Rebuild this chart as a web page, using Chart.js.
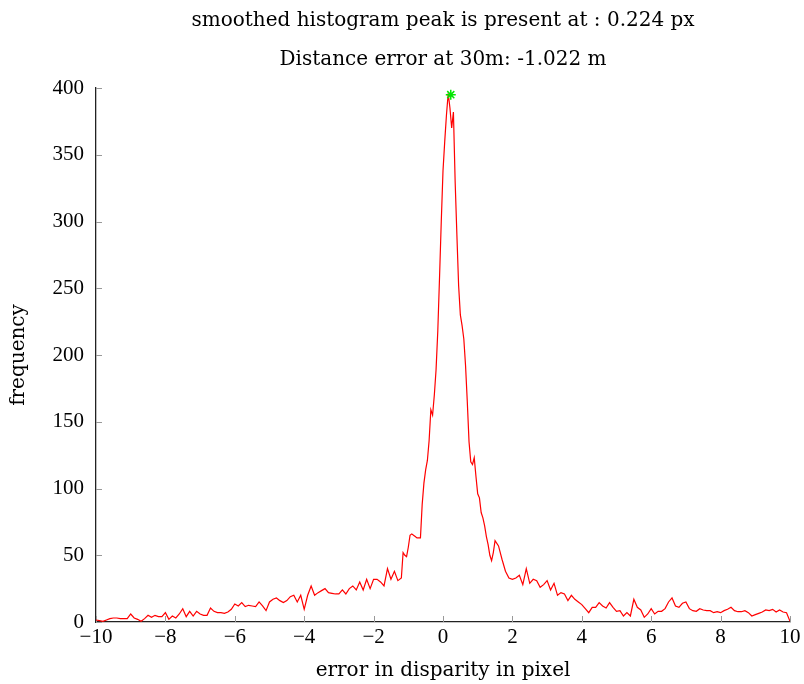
<!DOCTYPE html>
<html>
<head>
<meta charset="utf-8">
<script src="https://cdn.jsdelivr.net/npm/chart.js@4.4.1/dist/chart.umd.min.js"></script>
<style>
    html, body { margin: 0; padding: 0; background: #fff; }
    #wrap { width: 804px; height: 684px; position: relative; }
</style>
</head>
<body>
<div id="wrap"><canvas id="histChart"></canvas></div>
<script>
    "use strict";

    // histogram bins: left tail (step 0.1), core around the peak (step 0.05), right tail (step 0.1)
    const leftStart = -10, leftStep = 0.1;
    const leftFreq = [
        1.5, 1, 0.5, 1.5, 2.5, 3, 3, 2.5, 2.5, 2.5,
        6, 3, 2, 0.5, 2.5, 5, 3.5, 5, 4, 4,
        7, 2, 4.5, 3, 6, 10, 4, 8, 4.5, 8,
        6, 5, 5, 10.5, 8, 7, 7, 6.5, 7.5, 9.5,
        13.5, 12, 14.5, 11.5, 12.5, 12, 11.5, 15, 12, 8.5,
        15, 17, 18, 16, 14.5, 16, 19, 20, 15, 20,
        9.5, 20, 27, 20, 22, 23.5, 25, 22, 21.5, 21,
        21, 24, 21, 25, 27, 24, 30, 24, 32, 25,
        32, 32, 30, 27, 40, 32, 38, 31, 33
    ];

    const coreStart = -1.15, coreStep = 0.05;
    const coreFreq = [
        52, 50, 49, 56, 65, 66, 65, 64, 63, 63,
        63, 88, 104, 114, 121, 136, 159, 155, 170, 189,
        218, 258, 300, 338, 360, 380, 396, 385, 370, 382,
        330, 290, 252, 230, 222, 212, 192, 165, 135, 120,
        118, 123, 109, 96, 93, 82, 78, 72, 64, 58,
        50, 46, 52, 61
    ];

    const rightStart = 1.6, rightStep = 0.1;
    const rightFreq = [
        57, 47, 38, 33, 32, 33, 35, 28, 40, 29,
        32, 31, 26, 28, 31, 24, 29, 20, 22, 21,
        16, 20, 17, 15, 13, 10, 7, 11, 11, 14.5,
        12, 10.5, 14.5, 11, 8, 8.5, 4.5, 7, 4.5, 17,
        11, 9, 3.5, 6, 10, 6, 8, 8, 10, 15,
        18, 12, 11, 14, 15, 10, 8.5, 8, 10, 9,
        8.5, 8.5, 7, 7.7, 7, 8.5, 9.5, 11, 8.5, 7.7,
        7.7, 8.5, 7, 4.5, 5.5, 6.5, 7.5, 9, 8.5, 9.5,
        7.5, 9, 7.5, 7, 0.5
    ];

    const peakX = [0.224];
    const peakY = [395];

    const xTicks = [-10, -8, -6, -4, -2, 0, 2, 4, 6, 8, 10];
    const yTicks = [0, 50, 100, 150, 200, 250, 300, 350, 400];

    const titleLines = ['smoothed histogram peak is present at : 0.224 px', 'Distance error at 30m: -1.022 m'];
    const xLabel = 'error in disparity in pixel';
    const yLabel = 'frequency';

    function binPoints(start, step, freq) {
        return freq.map((v, i) => ({ x: +(start + i * step).toFixed(3), y: v }));
    }

    const histPoints = [
        ...binPoints(leftStart, leftStep, leftFreq),
        ...binPoints(coreStart, coreStep, coreFreq),
        ...binPoints(rightStart, rightStep, rightFreq)
    ];
    const peakPoints = peakX.map((x, i) => ({ x: x, y: peakY[i] }));

    const serif = "'Liberation Serif', 'DejaVu Serif', serif";
    const wideSerif = "'DejaVu Serif', 'Liberation Serif', serif";

    // small grey tick marks pointing into the plot, like the pgfplots original
    const innerTicks = {
        id: 'innerTicks',
        beforeDatasetsDraw(chart) {
            const { ctx, chartArea, scales } = chart;
            ctx.save();
            ctx.strokeStyle = '#999';
            ctx.lineWidth = 1;
            ctx.beginPath();
            xTicks.forEach(v => {
                const px = Math.round(scales.x.getPixelForValue(v)) + 0.5;
                ctx.moveTo(px, chartArea.bottom);
                ctx.lineTo(px, chartArea.bottom - 6);
            });
            yTicks.forEach(v => {
                const py = Math.round(scales.y.getPixelForValue(v)) + 0.5;
                ctx.moveTo(chartArea.left, py);
                ctx.lineTo(chartArea.left + 6, py);
            });
            ctx.stroke();
            ctx.restore();
        }
    };

    const minus = v => (v < 0 ? '\u2212' + Math.abs(v) : String(v));

    new Chart(document.getElementById('histChart'), {
        type: 'line',
        data: {
            datasets: [{
                label: 'peak',
                data: peakPoints,
                showLine: false,
                pointStyle: 'star',
                pointRadius: 5,
                borderColor: '#00e600',
                backgroundColor: '#00e600',
                borderWidth: 1.5
            }, {
                label: 'histogram',
                data: histPoints,
                borderColor: '#ff0000',
                borderWidth: 1.2,
                pointRadius: 0,
                tension: 0,
                fill: false
            }]
        },
        options: {
            responsive: true,
            maintainAspectRatio: false,
            animation: false,
            layout: { padding: { left: 0, right: 14, top: 0, bottom: 0 } },
            plugins: {
                legend: { display: false },
                tooltip: { enabled: false },
                title: {
                    display: true,
                    text: titleLines,
                    fullSize: false,
                    color: '#000',
                    font: { family: wideSerif, size: 20, weight: 'normal', lineHeight: 1.95 },
                    padding: { top: 1, bottom: 9 }
                }
            },
            scales: {
                x: {
                    type: 'linear',
                    min: -10,
                    max: 10,
                    afterFit: s => { s.height = 62; },
                    afterBuildTicks: s => { s.ticks = xTicks.map(v => ({ value: v })); },
                    grid: { display: false },
                    border: { display: true, color: '#222', width: 1.3 },
                    ticks: {
                        color: '#000',
                        padding: -5,
                        maxRotation: 0,
                        font: { family: serif, size: 21 },
                        callback: v => minus(v)
                    },
                    title: {
                        display: true,
                        text: xLabel,
                        color: '#000',
                        font: { family: wideSerif, size: 20 },
                        padding: { top: 0, bottom: 1 }
                    }
                },
                y: {
                    type: 'linear',
                    min: 0,
                    max: 400,
                    afterFit: s => { s.width = 96; },
                    afterBuildTicks: s => { s.ticks = yTicks.map(v => ({ value: v })); },
                    grid: { display: false },
                    border: { display: true, color: '#222', width: 1.3 },
                    ticks: {
                        color: '#000',
                        padding: 4,
                        font: { family: serif, size: 21 }
                    },
                    title: {
                        display: true,
                        text: yLabel,
                        color: '#000',
                        font: { family: wideSerif, size: 20 },
                        padding: { top: 7, bottom: 0 }
                    }
                }
            }
        },
        plugins: [innerTicks]
    });
</script>
</body>
</html>
